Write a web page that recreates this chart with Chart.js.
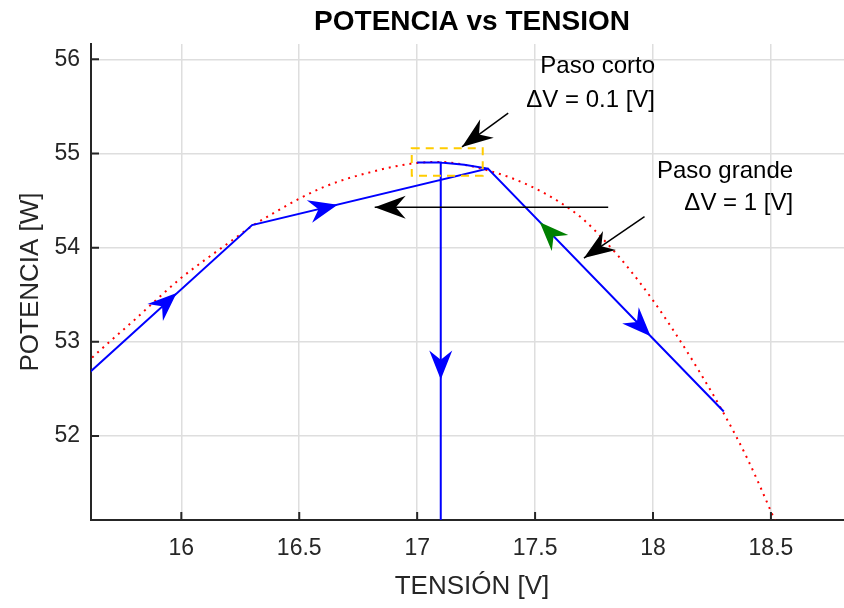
<!DOCTYPE html>
<html><head><meta charset="utf-8">
<script src="https://cdn.jsdelivr.net/npm/chart.js@4/dist/chart.umd.min.js"></script>
<style>html,body{margin:0;padding:0;background:#fff;overflow:hidden}canvas{display:block}</style>
</head><body>
<canvas id="c" width="853" height="608"></canvas>
<script>
const FONT = '"Liberation Sans", Arial, Helvetica, sans-serif';

// axis ranges and tick labels
const xRange = [15.617, 18.848];
const yRange = [51.108, 56.163];
const xTicks = [16, 16.5, 17, 17.5, 18, 18.5];
const yTicks = [52, 53, 54, 55, 56];

// P-V curve (red dotted)
const curveV = [15.5, 15.6, 15.7, 15.8, 15.9, 16.0, 16.1, 16.2, 16.3, 16.4, 16.5, 16.6, 16.7, 16.8, 16.9, 17.0, 17.1, 17.2, 17.3, 17.4, 17.5, 17.6, 17.7, 17.8, 17.9, 18.0, 18.1, 18.2, 18.3, 18.4, 18.5, 18.6];
const curveP = [52.52, 52.78, 53.01, 53.23, 53.46, 53.68, 53.87, 54.05, 54.23, 54.38, 54.52, 54.64, 54.73, 54.80, 54.86, 54.90, 54.91, 54.88, 54.82, 54.74, 54.63, 54.49, 54.31, 54.06, 53.77, 53.44, 53.07, 52.67, 52.24, 51.76, 51.20, 50.60];

// MPPT trajectory (blue)
const pathV = [15.3, 16.3, 17.3, 18.3, 17.3, 17.2, 17.1, 17.0, 17.1, 17.0, 17.1, 17.1];
const pathP = [51.97, 54.24, 54.84, 52.26, 54.84, 54.88, 54.905, 54.905, 54.905, 54.905, 54.905, 50.0];

// direction arrowheads on the trajectory: tip and a point behind it
const headTipV  = [15.98, 16.663, 17.99, 17.52, 17.1];
const headTipP  = [53.52, 54.456, 53.06, 54.27, 52.6];
const headFromV = [15.617, 16.3, 17.3, 18.3, 17.1];
const headFromP = [52.69, 54.24, 54.84, 52.26, 54.9];
const headColor = ['#0000ff', '#0000ff', '#0000ff', '#008000', '#0000ff'];

// annotation arrows (black): from -> to
const noteFromV = [17.81, 17.386, 17.964];
const noteFromP = [54.43, 55.43, 54.33];
const noteToV   = [16.82, 17.19, 17.707];
const noteToP   = [54.43, 55.07, 53.89];

// annotation texts (right aligned)
const noteText = ['Paso corto', '\u0394V = 0.1 [V]', 'Paso grande', '\u0394V = 1 [V]'];
const noteTextV = [18.0085, 18.0085, 18.594, 18.594];
const noteTextP = [55.921, 55.568, 54.806, 54.471];

// zoom box (yellow dashed)
const boxV = [16.977, 17.278];
const boxP = [54.765, 55.055];

function arrowHead(ctx, tx, ty, fx, fy, L, W, color) {
  const dx = tx - fx, dy = ty - fy, d = Math.hypot(dx, dy);
  const ux = dx / d, uy = dy / d, nx = -uy, ny = ux;
  const bx = tx - ux * L, by = ty - uy * L;
  const mx = tx - ux * L * 0.68, my = ty - uy * L * 0.68;
  ctx.beginPath();
  ctx.moveTo(tx, ty);
  ctx.lineTo(bx + nx * W, by + ny * W);
  ctx.lineTo(mx, my);
  ctx.lineTo(bx - nx * W, by - ny * W);
  ctx.closePath();
  ctx.fillStyle = color;
  ctx.fill();
}

const decor = {
  id: 'decor',
  afterDatasetsDraw(chart) {
    const ctx = chart.ctx, xs = chart.scales.x, ys = chart.scales.y;
    const X = v => xs.getPixelForValue(v), Y = v => ys.getPixelForValue(v);
    ctx.save();
    // yellow dashed box
    ctx.strokeStyle = '#ffcc00'; ctx.lineWidth = 2; ctx.setLineDash([8, 6]);
    ctx.strokeRect(X(boxV[0]), Y(boxP[1]), X(boxV[1]) - X(boxV[0]), Y(boxP[0]) - Y(boxP[1]));
    ctx.setLineDash([]);
    // black annotation arrows
    ctx.strokeStyle = '#000'; ctx.lineWidth = 1.5;
    for (let i = 0; i < noteFromV.length; i++) {
      const fx = X(noteFromV[i]), fy = Y(noteFromP[i]), tx = X(noteToV[i]), ty = Y(noteToP[i]);
      ctx.beginPath(); ctx.moveTo(fx, fy); ctx.lineTo(tx, ty); ctx.stroke();
      arrowHead(ctx, tx, ty, fx, fy, 31, 11.5, '#000');
    }
    // direction arrowheads
    for (let i = 0; i < headTipV.length; i++) {
      arrowHead(ctx, X(headTipV[i]), Y(headTipP[i]), X(headFromV[i]), Y(headFromP[i]), 29, 11.5, headColor[i]);
    }
    // texts
    ctx.fillStyle = '#000'; ctx.font = '24px ' + FONT; ctx.textAlign = 'right'; ctx.textBaseline = 'middle';
    for (let i = 0; i < noteText.length; i++) ctx.fillText(noteText[i], X(noteTextV[i]), Y(noteTextP[i]));
    ctx.restore();
  },
  afterDraw(chart) {
    const ctx = chart.ctx, xs = chart.scales.x, ys = chart.scales.y, a = chart.chartArea;
    ctx.save();
    ctx.strokeStyle = '#262626'; ctx.lineWidth = 2;
    ctx.beginPath();
    xTicks.forEach(v => { const x = xs.getPixelForValue(v); ctx.moveTo(x, a.bottom); ctx.lineTo(x, a.bottom - 8); });
    yTicks.forEach(v => { const y = ys.getPixelForValue(v); ctx.moveTo(a.left, y); ctx.lineTo(a.left + 8, y); });
    ctx.stroke();
    ctx.restore();
  }
};

new Chart(document.getElementById('c'), {
  type: 'scatter',
  data: {
    datasets: [
      {
        data: pathV.map((v, i) => ({x: v, y: pathP[i]})),
        showLine: true, borderColor: '#0000ff', borderWidth: 2, pointRadius: 0, tension: 0, order: 0
      },
      {
        data: curveV.map((v, i) => ({x: v, y: curveP[i]})),
        showLine: true, borderColor: '#ff0000', borderWidth: 2, borderDash: [2, 5], borderCapStyle: 'butt',
        pointRadius: 0, cubicInterpolationMode: 'monotone', order: 1
      }
    ]
  },
  options: {
    responsive: false, animation: false, events: [],
    layout: {padding: {left: 0, right: 0, top: 0, bottom: 0}},
    plugins: {
      legend: {display: false}, tooltip: {enabled: false},
      title: {display: true, text: 'POTENCIA vs TENSION', color: '#000', fullSize: false,
        font: {family: FONT, size: 28, weight: 'bold'}, padding: {top: 5, bottom: 5.4}}
    },
    scales: {
      x: {
        type: 'linear', min: xRange[0], max: xRange[1],
        afterBuildTicks: s => { s.ticks = xTicks.map(v => ({value: v})); },
        afterFit: s => { s.height = 88; },
        grid: {color: '#dedede', lineWidth: 1.5, drawTicks: false},
        border: {display: true, color: '#262626', width: 2},
        ticks: {color: '#262626', font: {family: FONT, size: 23}, padding: 15, callback: v => String(v)},
        title: {display: true, text: 'TENSIÓN [V]', color: '#262626', font: {family: FONT, size: 26}, padding: {top: 0, bottom: 5.4}}
      },
      y: {
        type: 'linear', min: yRange[0], max: yRange[1],
        afterBuildTicks: s => { s.ticks = yTicks.map(v => ({value: v})); },
        afterFit: s => { s.width = 91; },
        grid: {color: '#dedede', lineWidth: 1.5, drawTicks: false},
        border: {display: true, color: '#262626', width: 2},
        ticks: {color: '#262626', font: {family: FONT, size: 23}, padding: 11, callback: v => String(v)},
        title: {display: true, text: 'POTENCIA [W]', color: '#262626', font: {family: FONT, size: 26}, padding: {top: 15, bottom: 0}}
      }
    }
  },
  plugins: [decor]
});
</script>
</body></html>
